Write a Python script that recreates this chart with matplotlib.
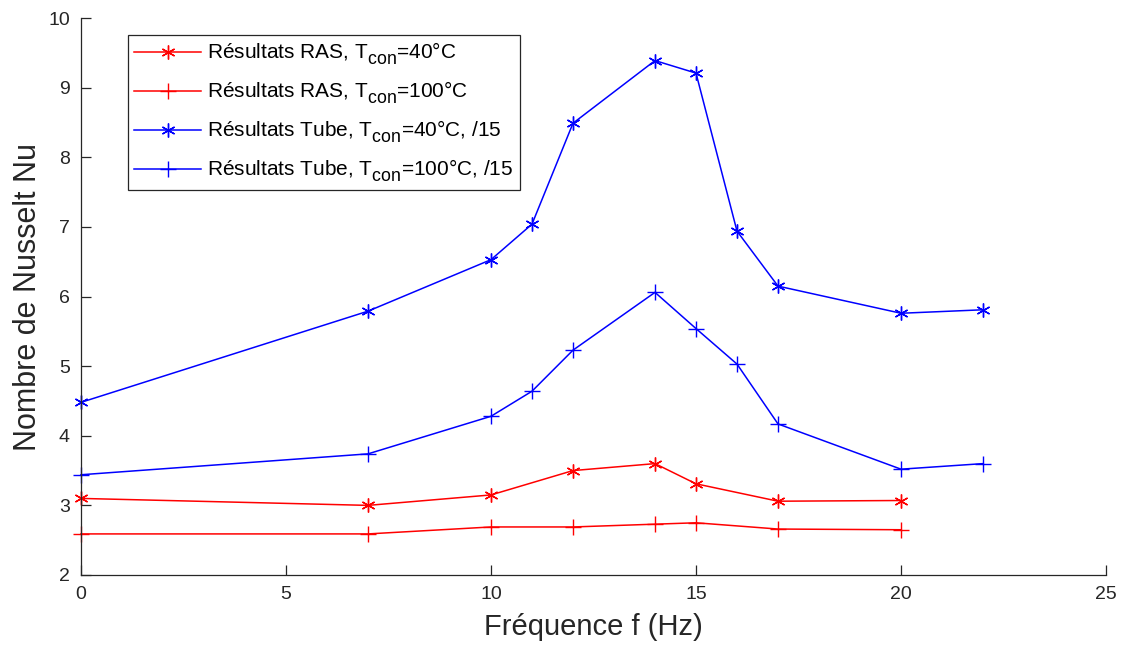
import numpy as np
import matplotlib
matplotlib.use('Agg')
import matplotlib.pyplot as plt
import matplotlib._mathtext as mt

plt.rcParams['font.family'] = ['Liberation Sans', 'DejaVu Sans']
plt.rcParams['mathtext.fontset'] = 'custom'
plt.rcParams['mathtext.rm'] = 'Liberation Sans'
plt.rcParams['mathtext.it'] = 'Liberation Sans'
# bigger, lower subscripts, like the MATLAB legend
mt.SHRINK_FACTOR = 0.85
mt.FontConstantsBase.sub1 = 0.55
mt.FontConstantsBase.sub2 = 0.7

# frequencies (Hz)
f_ras = [0, 7, 10, 12, 14, 15, 17, 20]
f_tube = [0, 7, 10, 11, 12, 14, 15, 16, 17, 20, 22]

# Nusselt numbers
nu_ras_40 = [3.10, 3.00, 3.15, 3.50, 3.60, 3.31, 3.06, 3.07]
nu_ras_100 = [2.59, 2.59, 2.69, 2.69, 2.73, 2.75, 2.66, 2.65]
nu_tube_40 = [4.48, 5.79, 6.53, 7.04, 8.49, 9.39, 9.21, 6.94, 6.15, 5.76, 5.81]
nu_tube_100 = [3.44, 3.74, 4.28, 4.64, 5.23, 6.06, 5.54, 5.03, 4.17, 3.52, 3.60]

labels = ['Résultats RAS, T$_{\\mathrm{con}}$=40°C',
          'Résultats RAS, T$_{\\mathrm{con}}$=100°C',
          'Résultats Tube, T$_{\\mathrm{con}}$=40°C, /15',
          'Résultats Tube, T$_{\\mathrm{con}}$=100°C, /15']

star = (6, 2, 0)
fig = plt.figure(figsize=(11.28, 6.47), dpi=100)
ax = fig.add_axes([0.0718, 0.1113, 0.9087, 0.8607])

kw = dict(mew=1.0, lw=1.1, clip_on=False)
ax.plot(f_ras, nu_ras_40, color='red', marker=star, ms=10, label=labels[0], **kw)
ax.plot(f_ras, nu_ras_100, color='red', marker='+', ms=12, label=labels[1], **kw)
ax.plot(f_tube, nu_tube_40, color='blue', marker=star, ms=10, label=labels[2], **kw)
ax.plot(f_tube, nu_tube_100, color='blue', marker='+', ms=12, label=labels[3], **kw)

ax.set_xlim(0, 25)
ax.set_ylim(2, 10)
ax.set_xticks([0, 5, 10, 15, 20, 25])
ax.set_yticks(range(2, 11))
ax.spines['top'].set_visible(False)
ax.spines['right'].set_visible(False)
for s in ['left', 'bottom']:
    ax.spines[s].set_color('#262626')
    ax.spines[s].set_linewidth(0.9)
ax.tick_params(direction='in', length=7, width=0.9, colors='#262626',
               labelsize=14, pad=8)

ax.set_xlabel('Fréquence f (Hz)', fontsize=21, color='#262626', labelpad=7)
ax.set_ylabel('Nombre de Nusselt Nu', fontsize=22, color='#262626', labelpad=4)

leg = ax.legend(loc='upper left', bbox_to_anchor=(0.046, 0.97), fontsize=15,
                fancybox=False, framealpha=1, edgecolor='#262626',
                handlelength=3.2, borderpad=0.3, labelspacing=0.62,
                handletextpad=0.3, borderaxespad=0)
leg.get_frame().set_linewidth(0.9)

fig.savefig('out.png', dpi=100)
